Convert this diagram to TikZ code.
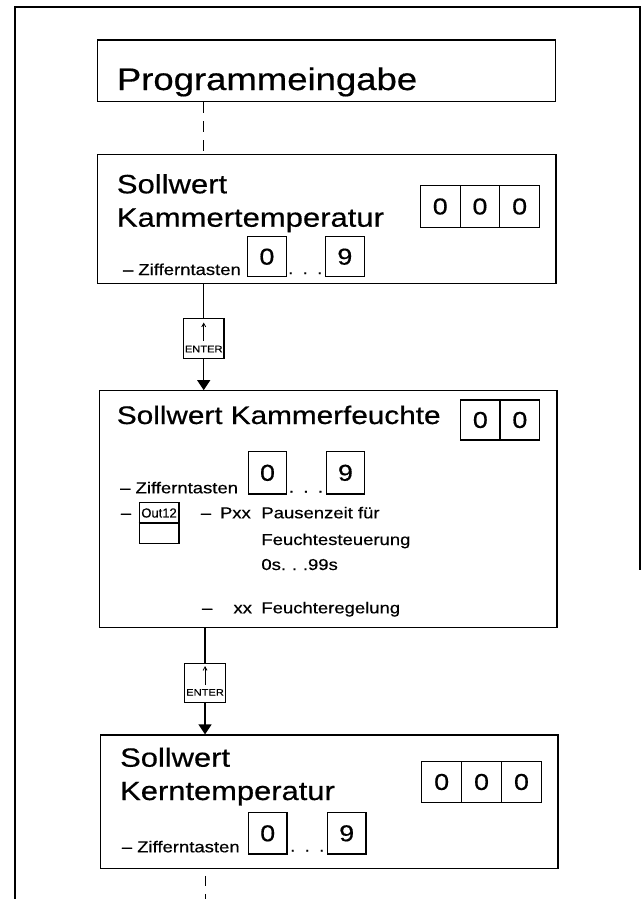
\documentclass[tikz,border=0pt]{standalone}
\usepackage{fontspec}
\setmainfont{Liberation Sans}[FakeBold=0.5]
\usepackage{graphicx}
\usetikzlibrary{arrows.meta}
\newcommand\stx[2]{{\fontsize{#1}{#1}\selectfont\scalebox{1.17}[1]{#2}}}
\begin{document}
\begin{tikzpicture}[x=1pt,y=-1pt,
  frame/.style={line width=1.6pt},
  bigbox/.style={draw, line width=1.2pt, inner sep=0pt},
  cell/.style={draw, line width=1.2pt, inner sep=0pt, minimum width=39.7pt, minimum height=41pt},
  key/.style={draw, line width=1.2pt, inner sep=0pt, minimum width=38.5pt, minimum height=41pt},
  entbox/.style={draw, line width=1.2pt, inner sep=0pt, minimum width=40.4pt, minimum height=40pt},
  lbl/.style={inner sep=0pt, anchor=base west},
  conn/.style={line width=1.2pt},
  arr/.style={line width=1.2pt, -{Triangle[width=13pt,length=10pt]}},
  dline/.style={line width=1.2pt, dash pattern=on 11pt off 8pt},
  smallarr/.style={line width=0.8pt, -{Straight Barb[length=3.5pt,width=4pt]}}
]
\useasboundingbox (0,0) rectangle (642,899);

% outer frame
\draw[frame] (15,899) -- (15,7) -- (640,7) -- (640,570);

% boxes
\node[bigbox, minimum width=458.1pt, minimum height=61.7pt] (prog) at (326.45,70.85) {};
\node[bigbox, minimum width=458.6pt, minimum height=129.4pt] (kt) at (326.7,219) {};
\node[bigbox, minimum width=457.5pt, minimum height=236.6pt] (kf) at (328.25,509) {};
\node[bigbox, minimum width=457.7pt, minimum height=133.3pt] (kern) at (329.15,801.65) {};

% ENTER keys
\node[entbox] (e1) at (203.7,338.8) {};
\node[inner sep=0pt, anchor=base] (e1t) at (203.7,352.3) {\stx{9.5}{ENTER}};
\draw[smallarr] ([yshift=4.8pt]e1t.north) -- ([yshift=-4.4pt]e1.north);
\node[entbox, minimum height=39pt] (e2) at (205.05,682.8) {};
\node[inner sep=0pt, anchor=base] (e2t) at (205.05,695.7) {\stx{9.5}{ENTER}};
\draw[smallarr] ([yshift=3.9pt]e2t.north) -- ([yshift=-3.4pt]e2.north);

% connectors
\coordinate (bot) at (205.5,899);
\draw[dline] (prog.south -| e1) -- (kt.north -| e1);
\draw[conn] (kt.south -| e1) -- (e1.north);
\draw[arr] (e1.south) -- (kf.north -| e1);
\draw[conn] (kf.south -| e2) -- (e2.north);
\draw[arr] (e2.south) -- (kern.north -| e2);
\draw[line width=1.2pt, dash pattern=on 10pt off 8pt, dash phase=11pt] (kern.south -| bot) -- (bot);

% title box
\node[lbl] (t0) at (116.7,90) {\stx{31.2}{Programmeingabe}};

% box 2
\node[lbl] (t1a) at (116.7,193.3) {\stx{26.5}{Sollwert}};
\node[lbl] (t1b) at (116.7,226.7) {\stx{26.5}{Kammertemperatur}};
\node[cell, minimum height=41.6pt] (c11) at (440.25,206.5) {\stx{23}{0}};
\node[cell, minimum height=41.6pt] (c12) at (479.95,206.5) {\stx{23}{0}};
\node[cell, minimum height=41.6pt] (c13) at (519.65,206.5) {\stx{23}{0}};
\node[lbl] (z1) at (122.8,275) {\stx{15.8}{– Zifferntasten}};
\node[key, minimum height=40pt] (k10) at (266.9,256.7) {\stx{23}{0}};
\node[key, minimum height=40pt] (k19) at (344.85,256.7) {\stx{23}{9}};
\node[inner sep=0pt, anchor=base] (d1) at (305.3,274) {\stx{15.8}{.\hspace{8pt}.\hspace{8pt}.}};

% box 3
\node[lbl] (t2) at (116.7,424) {\stx{25.4}{Sollwert Kammerfeuchte}};
\node[cell, minimum height=40pt] (c21) at (480.35,420) {\stx{23}{0}};
\node[cell, minimum height=40pt] (c22) at (519.85,420) {\stx{23}{0}};
\node[lbl] (z2) at (120,493.3) {\stx{15.8}{– Zifferntasten}};
\node[key, minimum height=42.3pt] (k20) at (267.5,472.85) {\stx{23}{0}};
\node[key, minimum height=42.3pt] (k29) at (345.45,472.85) {\stx{23}{9}};
\node[inner sep=0pt, anchor=base] (d2) at (305.9,492.5) {\stx{15.8}{.\hspace{8pt}.\hspace{8pt}.}};
\node[lbl] (od) at (120.7,518.3) {\stx{15.8}{–}};
\node[draw, line width=1.2pt, inner sep=0pt, minimum width=39.7pt, minimum height=40.6pt] (out) at (159.05,523) {};
\draw[line width=1.2pt] (out.west) -- (out.east);
\node[inner sep=0pt] (outt) at (159.05,513) {\fontsize{13}{13}\selectfont Out12};
\node[lbl] (pd) at (200.6,518.3) {\stx{15.8}{–}};
\node[lbl] (pxx) at (219.8,518.3) {\stx{15.8}{Pxx}};
\node[lbl] (pz) at (261.2,518.3) {\stx{15.8}{Pausenzeit für}};
\node[lbl] (fs) at (261.2,545) {\stx{15.8}{Feuchtesteuerung}};
\node[lbl] (rng) at (261.2,570) {\stx{15.8}{0s.\hspace{5pt}.\hspace{5pt}.99s}};
\node[lbl] (xd) at (201.8,613.3) {\stx{15.8}{–}};
\node[lbl] (xx) at (233.3,613.3) {\stx{15.8}{xx}};
\node[lbl] (fr) at (261.2,613.3) {\stx{15.8}{Feuchteregelung}};

% box 4
\node[lbl] (t3a) at (120,766.7) {\stx{26.4}{Sollwert}};
\node[lbl] (t3b) at (120,800) {\stx{26.4}{Kerntemperatur}};
\node[cell, minimum height=40.6pt] (c31) at (441.65,782) {\stx{23}{0}};
\node[cell, minimum height=40.6pt] (c32) at (481.55,782) {\stx{23}{0}};
\node[cell, minimum height=40.6pt] (c33) at (521.45,782) {\stx{23}{0}};
\node[lbl] (z3) at (121.6,852.3) {\stx{15.8}{– Zifferntasten}};
\node[key, minimum height=41.3pt] (k30) at (267.7,833.35) {\stx{23}{0}};
\node[key, minimum height=41.3pt] (k39) at (346.7,833.35) {\stx{23}{9}};
\node[inner sep=0pt, anchor=base] (d3) at (307.2,851.5) {\stx{15.8}{.\hspace{8pt}.\hspace{8pt}.}};
\end{tikzpicture}
\end{document}
